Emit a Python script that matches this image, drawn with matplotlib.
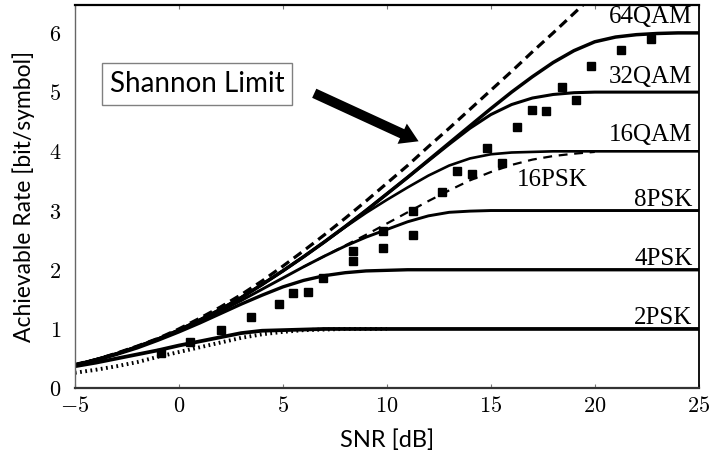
import matplotlib
matplotlib.use('Agg')
import matplotlib.pyplot as plt

plt.rcParams['mathtext.fontset'] = 'cm'

# SNR grid [dB] for the capacity curves
snr = [-5, -4, -3, -2, -1, 0, 1, 2, 3, 4, 5, 6, 7, 8, 9, 10, 11, 12, 13, 14, 15,
       16, 17, 18, 19, 20, 21, 22, 23, 24, 25]

shannon = [0.40, 0.48, 0.59, 0.71, 0.84, 1.00, 1.18, 1.37, 1.58, 1.81, 2.06, 2.32, 2.59,
           2.87, 3.16, 3.46, 3.76, 4.08, 4.39, 4.71, 5.03, 5.35, 5.68, 6.00, 6.33, 6.66]
qam64 = [0.39, 0.48, 0.58, 0.70, 0.83, 0.98, 1.15, 1.33, 1.53, 1.75, 1.98, 2.22, 2.47,
         2.73, 3.00, 3.28, 3.56, 3.85, 4.14, 4.43, 4.72, 5.00, 5.26, 5.50, 5.70, 5.85,
         5.93, 5.97, 5.99, 6.00, 6.00]
qam32 = [0.39, 0.48, 0.58, 0.70, 0.83, 0.98, 1.15, 1.33, 1.53, 1.75, 1.98, 2.22, 2.47,
         2.73, 3.00, 3.28, 3.56, 3.84, 4.12, 4.39, 4.62, 4.79, 4.90, 4.96, 4.99, 5.00,
         5.00, 5.00, 5.00, 5.00, 5.00]
qam16 = [0.39, 0.48, 0.58, 0.70, 0.83, 0.98, 1.15, 1.33, 1.53, 1.75, 1.98, 2.22, 2.47,
         2.72, 2.96, 3.18, 3.39, 3.59, 3.76, 3.88, 3.95, 3.98, 3.99, 4.00, 4.00, 4.00,
         4.00, 4.00, 4.00, 4.00, 4.00]
psk8 = [0.39, 0.48, 0.58, 0.70, 0.83, 0.97, 1.13, 1.30, 1.48, 1.67, 1.86, 2.05, 2.23,
        2.40, 2.55, 2.68, 2.81, 2.91, 2.97, 2.99, 3.00, 3.00, 3.00, 3.00, 3.00, 3.00,
        3.00, 3.00, 3.00, 3.00, 3.00]
psk4 = [0.39, 0.47, 0.57, 0.68, 0.81, 0.95, 1.10, 1.26, 1.42, 1.57, 1.71, 1.82, 1.90,
        1.95, 1.98, 1.99, 2.00, 2.00, 2.00, 2.00, 2.00, 2.00, 2.00, 2.00, 2.00, 2.00,
        2.00, 2.00, 2.00, 2.00, 2.00]
psk2 = [0.37, 0.43, 0.50, 0.57, 0.64, 0.72, 0.79, 0.86, 0.93, 0.97, 0.98, 0.99, 1.00,
        1.00, 1.00, 1.00, 1.00, 1.00, 1.00, 1.00, 1.00, 1.00, 1.00, 1.00, 1.00, 1.00,
        1.00, 1.00, 1.00, 1.00, 1.00]
hard2 = [0.26, 0.31, 0.37, 0.44, 0.53, 0.61, 0.69, 0.77, 0.85, 0.91, 0.95, 0.98, 0.99,
         1.00, 1.00, 1.00]

snr16 = [6, 7, 8, 9, 10, 11, 12, 13, 14, 15, 16, 17, 18, 19, 20]
psk16 = [2.05, 2.23, 2.41, 2.59, 2.78, 2.97, 3.16, 3.34, 3.51, 3.65, 3.77, 3.86, 3.92,
         3.96, 3.99]

# measured points
meas_snr = [-0.87, 0.52, 2.01, 3.45, 4.84, 5.51, 6.23, 6.95, 8.39, 8.39, 9.83, 9.83,
            11.27, 11.27, 12.67, 13.39, 14.11, 14.83, 15.55, 16.27, 16.99, 17.66,
            18.43, 19.10, 19.82, 21.26, 22.70]
meas_rate = [0.59, 0.78, 0.98, 1.20, 1.42, 1.61, 1.63, 1.86, 2.14, 2.32, 2.66, 2.37,
             3.00, 2.59, 3.32, 3.66, 3.61, 4.05, 3.81, 4.41, 4.69, 4.68, 5.08, 4.86,
             5.44, 5.71, 5.90]

labels = ['64QAM', '32QAM', '16QAM', '8PSK', '4PSK', '2PSK']
label_y = [6.17, 5.15, 4.17, 3.07, 2.08, 1.08]

fig = plt.figure(figsize=(7.13, 4.61), dpi=100)
ax = fig.add_axes([0.105, 0.158, 0.875, 0.831])

ax.plot(snr[:len(hard2)], hard2, color='k', lw=2.8, ls=(0, (0.45, 0.9)))
ax.plot(snr, psk2, color='k', lw=2.7)
ax.plot(snr, psk4, color='k', lw=2.4)
ax.plot(snr, psk8, color='k', lw=2.1)
ax.plot(snr16, psk16, color='k', lw=1.6, ls=(0, (4, 3)))
ax.plot(snr, qam16, color='k', lw=1.9)
ax.plot(snr, qam32, color='k', lw=2.2)
ax.plot(snr, qam64, color='k', lw=2.5)
ax.plot(snr[:len(shannon)], shannon, color='k', lw=2.3, ls=(0, (3, 1.8)))
ax.plot(meas_snr, meas_rate, ls='none', marker='s', ms=5.5, color='k')

for lab, ly in zip(labels, label_y):
    ax.text(24.7, ly, lab, ha='right', va='baseline', family='Liberation Serif',
            fontsize=18)
ax.text(16.25, 3.41, '16PSK', ha='left', va='baseline', family='Liberation Serif',
        fontsize=18)

ax.text(0.89, 5.14, 'Shannon Limit', ha='center', va='center', family='Lato',
        fontsize=20, bbox=dict(boxstyle='square,pad=0.28', fc='white', ec='#808080', lw=1))
ax.annotate('', xy=(11.65, 4.15), xytext=(6.39, 5.0),
            arrowprops=dict(arrowstyle='simple,head_length=0.65,head_width=0.8,tail_width=0.36',
                            mutation_scale=20, color='k', lw=0))

ax.set_xlim(-5, 25)
ax.set_ylim(0, 6.47)
ax.set_xticks([-5, 0, 5, 10, 15, 20, 25])
ax.set_xticklabels(['$-5$', '$0$', '$5$', '$10$', '$15$', '$20$', '$25$'], fontsize=16)
ax.set_yticks([0, 1, 2, 3, 4, 5, 6])
ax.set_yticklabels(['$0$', '$1$', '$2$', '$3$', '$4$', '$5$', '$6$'], fontsize=16)
ax.tick_params(direction='in', top=True, bottom=True, left=False, right=False,
               length=3, width=0.8, color='#777777', pad=6)
ax.tick_params(axis='y', pad=10)

ax.spines['left'].set_color('#666666')
ax.spines['left'].set_linewidth(1.0)
ax.spines['bottom'].set_color('#333333')
ax.spines['bottom'].set_linewidth(1.6)
ax.spines['top'].set_linewidth(1.6)
ax.spines['right'].set_linewidth(1.3)

ax.set_xlabel('SNR [dB]', family='Lato', fontsize=17, labelpad=9)
ax.set_ylabel('Achievable Rate [bit/symbol]', family='Lato', fontsize=16.5, labelpad=10)

fig.savefig('out.png', dpi=100)
